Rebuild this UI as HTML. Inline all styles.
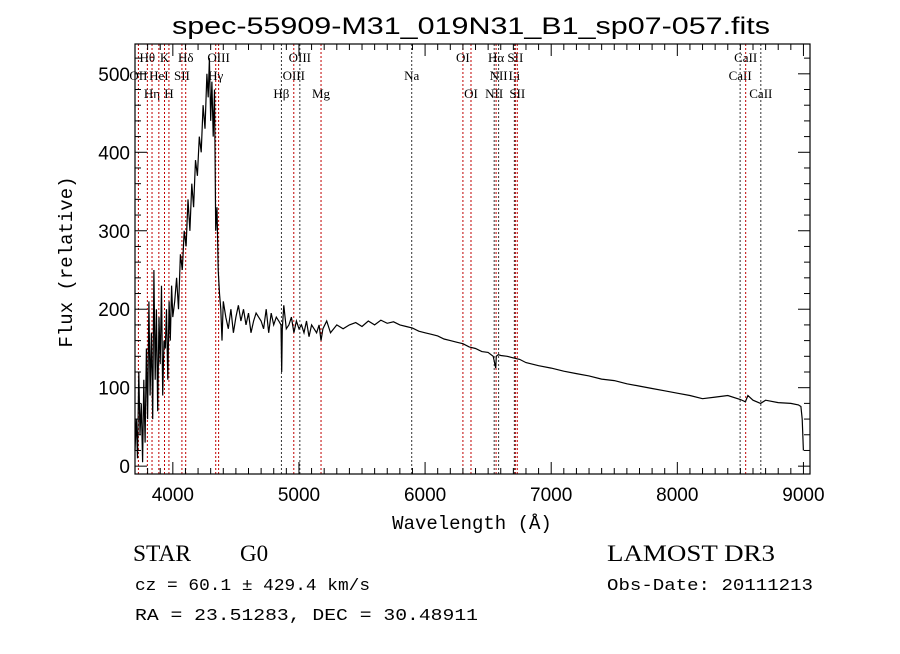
<!DOCTYPE html>
<html><head><meta charset="utf-8"><style>
body{margin:0;background:#fff;}
svg text{font-family:"Liberation Sans",sans-serif;fill:#000;}
svg text.mono{font-family:"Liberation Mono",monospace;}
svg text.serif{font-family:"Liberation Serif",serif;}
</style></head><body>
<svg id="chart" width="900" height="649" viewBox="0 0 900 649" xmlns="http://www.w3.org/2000/svg">
<rect width="900" height="649" fill="#fff"/>
<text x="172" y="34" font-size="24" textLength="598" lengthAdjust="spacingAndGlyphs">spec-55909-M31_019N31_B1_sp07-057.fits</text>
<text class="mono" transform="translate(72,262) rotate(-90)" font-size="19" text-anchor="middle">Flux (relative)</text>
<text class="mono" x="472" y="529" font-size="19" text-anchor="middle">Wavelength (Å)</text>
<g id="lines"></g>
<g id="axes"></g>
<path id="spec" fill="none" stroke="#000" stroke-width="1.2"/>
<rect x="135" y="44" width="675" height="430" fill="none" stroke="#000" stroke-width="1.2"/>
<text class="serif" x="133" y="561" font-size="23" textLength="58" lengthAdjust="spacingAndGlyphs">STAR</text>
<text class="serif" x="240" y="561" font-size="23">G0</text>
<text class="serif" x="607" y="561" font-size="23" textLength="168" lengthAdjust="spacingAndGlyphs">LAMOST DR3</text>
<text class="mono" x="135" y="590" font-size="17" textLength="235" lengthAdjust="spacingAndGlyphs">cz = 60.1 ± 429.4 km/s</text>
<text class="mono" x="135" y="620" font-size="17" textLength="343" lengthAdjust="spacingAndGlyphs">RA =  23.51283, DEC =  30.48911</text>
<text class="mono" x="607" y="590" font-size="17" textLength="206" lengthAdjust="spacingAndGlyphs">Obs-Date: 20111213</text>
</svg>
<script>
const waves=[
3700,3710,3720,3730,3740,3750,3760,3770,3780,3790,
3800,3810,3820,3830,3840,3850,3860,3870,3880,3890,
3900,3910,3920,3930,3940,3950,3960,3970,3980,3990,
4000,4015,4030,4045,4060,4075,4090,4105,4120,4135,
4150,4165,4180,4195,4210,4225,4240,4255,4270,4280,
4290,4300,4310,4320,4330,4340,4350,4360,4370,4380,
4390,4400,4420,4440,4460,4480,4500,4520,4540,4560,
4580,4600,4620,4640,4660,4680,4700,4720,4740,4760,
4780,4800,4820,4840,4858,4863,4868,4880,4900,4920,
4940,4960,4980,5000,5020,5040,5060,5080,5100,5120,
5140,5160,5175,5190,5220,5250,5300,5350,5400,5450,
5500,5550,5600,5650,5700,5750,5800,5850,5900,5950,
6000,6050,6100,6150,6200,6250,6300,6350,6400,6450,
6500,6540,6560,6565,6580,6600,6650,6700,6750,6800,
6900,7000,7100,7200,7300,7400,7500,7600,7700,7800,
7900,8000,8100,8200,8300,8400,8500,8540,8560,8600,
8660,8700,8800,8900,8960,8980,8990,9000];
const flux=[
20,60,10,120,40,80,5,110,30,150,
60,210,90,170,60,250,110,200,70,190,
130,230,90,160,150,200,110,210,160,230,
190,210,240,200,270,250,300,280,340,300,
360,330,390,370,420,400,460,430,500,470,
520,440,490,420,480,300,330,250,220,200,
160,210,190,175,200,170,190,205,185,200,
180,195,170,185,195,190,185,175,200,170,
195,180,190,185,180,120,175,205,175,180,
190,170,185,175,180,170,185,165,180,175,
170,180,160,175,185,170,180,175,180,183,
178,185,180,186,182,184,180,178,176,172,
170,168,166,162,160,158,156,152,150,146,
145,140,125,140,142,141,140,138,136,132,
128,125,121,118,115,111,109,105,102,99,
96,93,90,86,88,90,85,82,90,84,
80,84,81,80,78,76,60,20];
const lineWaves=[3727,3798,3835,3889,3934,3969,4072,4102,4340,4363,4861,4959,5007,5175,5894,6300,6364,6548,6563,6583,6708,6716,6731,8498,8542,8662];
const lineLabels=["OII","Hθ","Hη","HeI","K","H","SII","Hδ","Hγ","OIII","Hβ","OIII","OIII","Mg","Na","OI","OI","NII","Hα","NII","Li","SII","SII","CaII","CaII","CaII"];
const lineRows=[1,0,2,1,0,2,1,0,1,0,2,1,0,2,1,0,2,2,0,1,1,0,2,1,0,2];
const lineBlack=[0,0,0,0,0,0,0,0,0,0,1,0,1,0,1,0,0,1,0,1,1,0,0,1,0,1];
const xTicks=[4000,5000,6000,7000,8000,9000];
const yTicks=[0,100,200,300,400,500];
const X0=135,X1=810,Y0=474,Y1=44,WMIN=3700,WMAX=9052,FMIN=-10,FMAX=538;
const sx=w=>X0+(w-WMIN)*(X1-X0)/(WMAX-WMIN);
const sy=f=>Y0-(f-FMIN)*(Y0-Y1)/(FMAX-FMIN);
const NS="http://www.w3.org/2000/svg";
function mk(t,a,p){const e=document.createElementNS(NS,t);for(const k in a)e.setAttribute(k,a[k]);p.appendChild(e);return e;}
let d="";const n=Math.min(waves.length,flux.length);
for(let i=0;i<n;i++){d+=(i?"L":"M")+sx(waves[i]).toFixed(1)+","+sy(flux[i]).toFixed(1);}
document.getElementById('spec').setAttribute('d',d);
const lg=document.getElementById('lines');
lineWaves.forEach((w,i)=>{
 const l=mk('line',{x1:sx(w),x2:sx(w),y1:Y1,y2:Y0,stroke:lineBlack[i]?'#333':'#c00000','stroke-width':1,'stroke-dasharray':'2,2'},lg);
 
 
 const t=mk('text',{x:sx(w),y:62+lineRows[i]*18,'font-size':13,'text-anchor':'middle','class':'serif'},lg);
 t.textContent=lineLabels[i];
 
 
});
const ag=document.getElementById('axes');
for(let w=3800;w<=9000;w+=100){const maj=w%1000===0;const h=maj?12:6;
 mk('line',{x1:sx(w),x2:sx(w),y1:Y0,y2:Y0-h,stroke:'#000'},ag);
 mk('line',{x1:sx(w),x2:sx(w),y1:Y1,y2:Y1+h,stroke:'#000'},ag);}
xTicks.forEach(w=>{const t=mk('text',{x:sx(w),y:Y0+27,'font-size':19,'text-anchor':'middle'},ag);t.textContent=w;
 
 });
for(let f=0;f<=530;f+=20){const maj=f%100===0;const h=maj?12:6;
 mk('line',{x1:X0,x2:X0+h,y1:sy(f),y2:sy(f),stroke:'#000'},ag);
 mk('line',{x1:X1,x2:X1-h,y1:sy(f),y2:sy(f),stroke:'#000'},ag);}
yTicks.forEach(f=>{const t=mk('text',{x:X0-5,y:sy(f)+7,'font-size':19,'text-anchor':'end'},ag);t.textContent=f;
 
 });
</script>
</body></html>
